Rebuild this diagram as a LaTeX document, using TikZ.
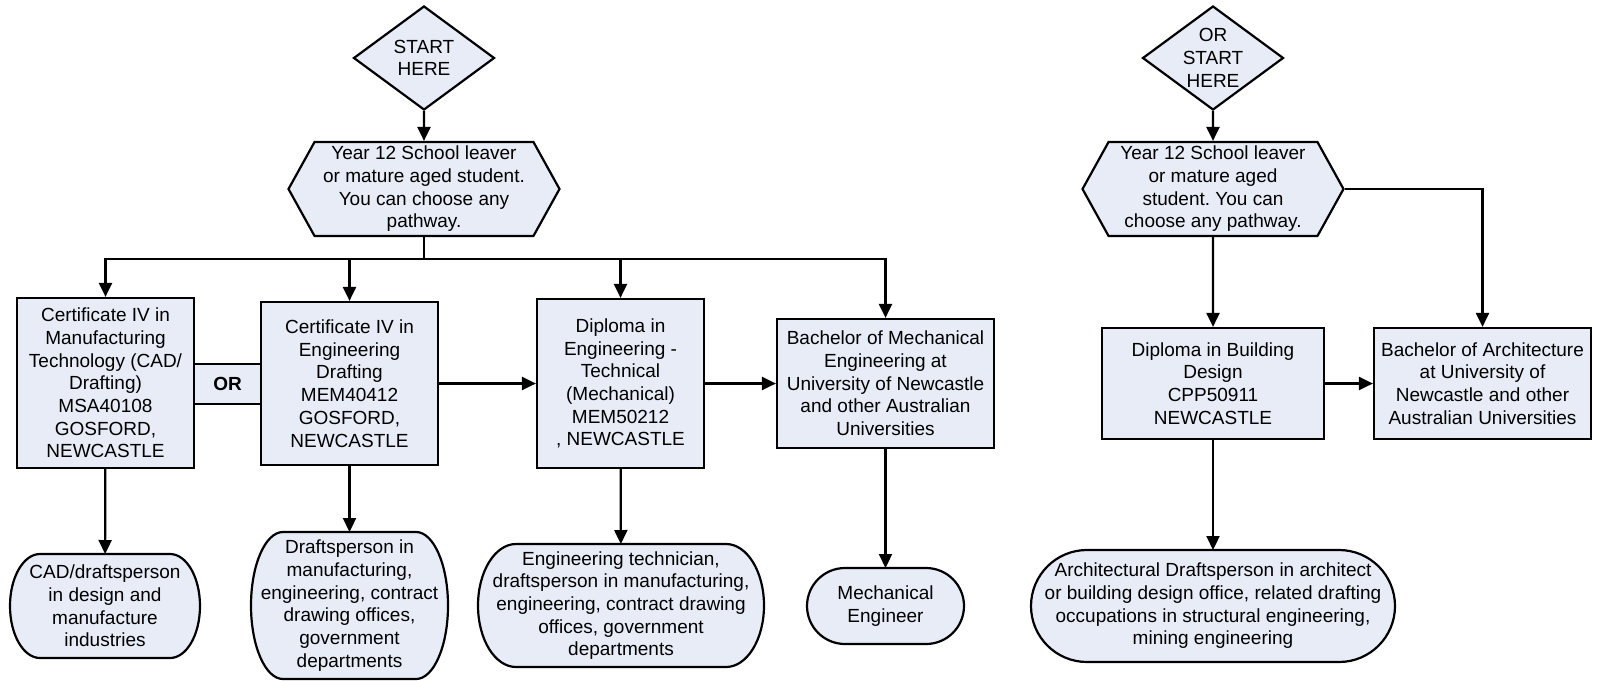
\documentclass[tikz,border=0pt]{standalone}
\usepackage{fontspec}
\setmainfont{Liberation Sans}
\frenchspacing
\usetikzlibrary{arrows.meta}
\usetikzlibrary{shapes.geometric}
\usetikzlibrary{shapes.symbols}
\usetikzlibrary{backgrounds}
\definecolor{pfill}{RGB}{231,236,247}
\tikzset{box/.style = {draw, fill=pfill, line width=2.2pt, align=center, inner sep=0, font=\fontsize{19}{22.7}\selectfont}}
\tikzset{startdia/.style = {box, diamond, shape aspect=1.36, minimum width=141, minimum height=104}}
\tikzset{leaver/.style = {box, signal, signal to=west and east, signal pointer angle=122, minimum height=94}}
\tikzset{job/.style = {align=center, inner sep=0, outer sep=0, font=\fontsize{19}{22.7}\selectfont}}
\tikzset{flow/.style = {line width=2.2pt, -{Triangle[length=14pt, width=13pt]}}}
\newcommand{\jobframe}[3]{%
  \draw [line width=2.2pt, fill=pfill] ([xshift=#2]#1.north west) -- ([xshift=-#2]#1.north east)
    arc [start angle=90, end angle=-90, x radius=#2pt, y radius=#3pt] -- ([xshift=#2]#1.south west)
    arc [start angle=270, end angle=90, x radius=#2pt, y radius=#3pt] -- cycle;}

\begin{document}
\begin{tikzpicture}[x=1pt, y=-1pt]
      \useasboundingbox (0, 0) rectangle (1597, 680);

      \node [startdia] (start1) at (424, 58) {START\\HERE};
      \node [leaver, minimum width=271] (leaver1) at (424, 189) {Year 12 School leaver\\or mature aged student.\\You can choose any\\pathway.};
      \coordinate (bus) at (424, 259);

      \node [box, minimum width=177, minimum height=170] (cert1) at (105.5, 383) {Certificate IV in\\Manufacturing\\Technology (CAD/\\Drafting)\\MSA40108\\GOSFORD,\\NEWCASTLE};
      \node [box, minimum width=177, minimum height=163] (cert2) at (349.5, 383.5) {Certificate IV in\\Engineering\\Drafting\\MEM40412\\GOSFORD,\\NEWCASTLE};
      \node [box, minimum width=67, minimum height=40, font=\fontsize{19}{22.7}\selectfont\bfseries] (or) at (227.5, 384) {OR};
      \node [box, minimum width=167, minimum height=169] (dipl) at (620.5, 383.5) {Diploma in\\Engineering -\\Technical\\(Mechanical)\\MEM50212\\, NEWCASTLE};
      \node [box, minimum width=217, minimum height=129] (bmech) at (885.5, 383.5) {Bachelor of Mechanical\\Engineering at\\University of Newcastle\\and other Australian\\Universities};

      \node [job, minimum width=190, minimum height=104] (job1) at (105, 606) {CAD/draftsperson\\in design and\\manufacture\\industries};
      \node [job, minimum width=197, minimum height=147] (job2) at (349.5, 605.5) {Draftsperson in\\manufacturing,\\engineering, contract\\drawing offices,\\government\\departments};
      \node [job, minimum width=286, minimum height=123] (job3) at (621, 605.5) {Engineering technician,\\draftsperson in manufacturing,\\engineering, contract drawing\\offices, government\\departments};
      \node [job, minimum width=157, minimum height=76] (job4) at (885.5, 606) {Mechanical\\Engineer};

      \node [startdia] (start2) at (1213, 58) {OR\\START\\HERE};
      \node [leaver, minimum width=261] (leaver2) at (1213, 189) {Year 12 School leaver\\or mature aged\\student. You can\\choose any pathway.};
      \node [box, minimum width=222, minimum height=111] (dipb) at (1213, 383.5) {Diploma in Building\\Design\\CPP50911\\NEWCASTLE};
      \node [box, minimum width=217, minimum height=111] (barch) at (1482.5, 383.5) {Bachelor of Architecture\\at University of\\Newcastle and other\\Australian Universities};
      \node [job, minimum width=364, minimum height=112] (job5) at (1213, 606) {Architectural Draftsperson in architect\\or building design office, related drafting\\occupations in structural engineering,\\mining engineering};

      \begin{scope}[on background layer]
        \jobframe{job1}{30}{52}
        \jobframe{job2}{32}{73.5}
        \jobframe{job3}{38}{61.5}
        \jobframe{job4}{38}{38}
        \jobframe{job5}{56}{56}
      \end{scope}

      \draw [flow] (start1) -- (leaver1);
      \draw [flow] (leaver1.south) -- (bus) -| (cert1.north);
      \draw [flow] (leaver1.south) -- (bus) -| (cert2.north);
      \draw [flow] (leaver1.south) -- (bus) -| (dipl.north);
      \draw [flow] (leaver1.south) -- (bus) -| (bmech.north);
      \draw [flow] (cert2) -- (dipl);
      \draw [flow] (dipl) -- (bmech);
      \draw [flow] (cert1) -- (job1);
      \draw [flow] (cert2) -- (job2);
      \draw [flow] (dipl) -- (job3);
      \draw [flow] (bmech) -- (job4);

      \draw [flow] (start2) -- (leaver2);
      \draw [flow] (leaver2.east) -| (barch.north);
      \draw [flow] (leaver2) -- (dipb);
      \draw [flow] (dipb) -- (barch);
      \draw [flow] (dipb) -- (job5);
    \end{tikzpicture}
\end{document}
